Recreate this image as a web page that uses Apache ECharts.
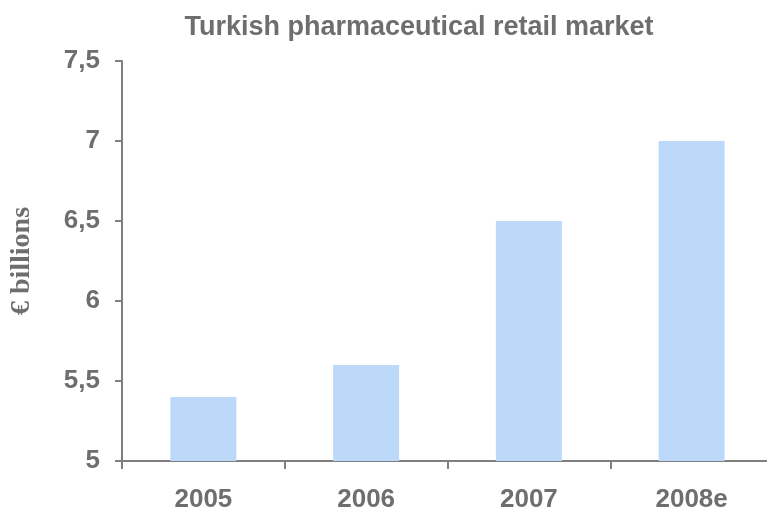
<!DOCTYPE html>
<html>
<head>
<meta charset="utf-8">
<script src="https://cdn.jsdelivr.net/npm/echarts@6/dist/echarts.min.js"></script>
<style>html,body{margin:0;padding:0;background:#fff;}#c{width:767px;height:514px;}</style>
</head>
<body>
<div id="c"></div>
<script>
const categories = ['2005', '2006', '2007', '2008e'];
const values = [5.4, 5.6, 6.5, 7.0];
const yTicks = [5, 5.5, 6, 6.5, 7, 7.5];
const titleText = 'Turkish pharmaceutical retail market';
const yName = '€ billions';

const gray = '#6e6e6e';
const chart = echarts.init(document.getElementById('c'), null, {renderer: 'canvas'});
chart.setOption({
  animation: false,
  backgroundColor: '#ffffff',
  title: {
    text: titleText,
    left: 414, top: 9, textAlign: 'center',
    textStyle: {fontFamily: 'Liberation Sans, Arial', fontWeight: 'bold', fontSize: 27, color: gray}
  },
  grid: {left: 122, top: 61, width: 651, bottom: 53, containLabel: false, outerBoundsMode: 'none'},
  xAxis: {
    type: 'category', data: categories,
    axisLine: {lineStyle: {color: '#7f7f7f', width: 2}},
    axisTick: {show: true, length: 8, lineStyle: {color: '#7f7f7f', width: 2}},
    axisLabel: {margin: 26, fontFamily: 'Liberation Sans, Arial', fontWeight: 'bold', fontSize: 26, color: gray}
  },
  yAxis: {
    type: 'value', min: yTicks[0], max: yTicks[yTicks.length - 1], interval: 0.5,
    name: yName, nameLocation: 'middle', nameGap: 86, nameRotate: 90,
    nameTextStyle: {fontFamily: 'Liberation Serif, Times New Roman', fontWeight: 'bold', fontSize: 28, color: gray},
    axisLine: {show: true, lineStyle: {color: '#7f7f7f', width: 2}},
    axisTick: {show: true, length: 7, lineStyle: {color: '#7f7f7f', width: 2}},
    splitLine: {show: false},
    axisLabel: {margin: 22, fontFamily: 'Liberation Sans, Arial', fontWeight: 'bold', fontSize: 26, color: gray,
      formatter: v => String(v).replace('.', ',')}
  },
  series: [{
    type: 'bar', data: values, barWidth: 66,
    itemStyle: {color: '#bdd9fa'}
  }]
});
</script>
</body>
</html>
